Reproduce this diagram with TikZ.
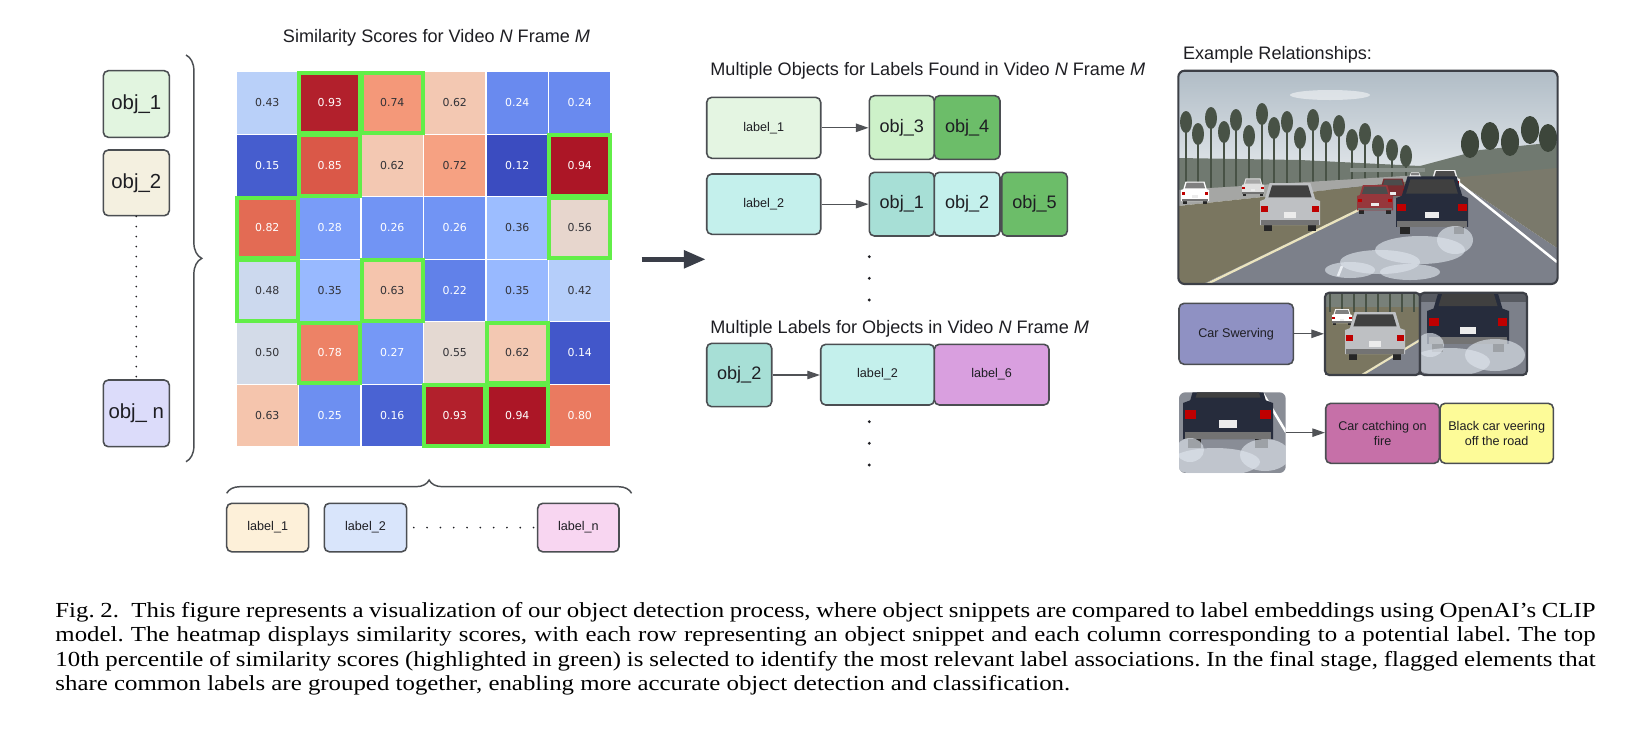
\documentclass[tikz,border=0pt]{standalone}
\usepackage{fontspec}
\setmainfont{Liberation Serif}
\setsansfont{Liberation Sans}
\newfontfamily\dejavu{DejaVu Sans}
\usetikzlibrary{arrows.meta,decorations.pathreplacing,calc}

% heatmap colours (coolwarm)
\definecolor{hm12}{RGB}{59,76,192}
\definecolor{hm14}{RGB}{66,87,202}
\definecolor{hm15}{RGB}{70,93,206}
\definecolor{hm16}{RGB}{74,99,211}
\definecolor{hm22}{RGB}{97,129,233}
\definecolor{hm24}{RGB}{105,138,239}
\definecolor{hm25}{RGB}{109,143,241}
\definecolor{hm26}{RGB}{113,148,244}
\definecolor{hm27}{RGB}{117,152,246}
\definecolor{hm28}{RGB}{121,156,248}
\definecolor{hm35}{RGB}{152,185,255}
\definecolor{hm36}{RGB}{156,189,255}
\definecolor{hm42}{RGB}{181,206,250}
\definecolor{hm43}{RGB}{185,208,249}
\definecolor{hm48}{RGB}{204,217,238}
\definecolor{hm50}{RGB}{211,219,232}
\definecolor{hm55}{RGB}{228,217,210}
\definecolor{hm56}{RGB}{231,214,205}
\definecolor{hm62}{RGB}{243,200,178}
\definecolor{hm63}{RGB}{245,197,173}
\definecolor{hm72}{RGB}{246,161,130}
\definecolor{hm74}{RGB}{244,152,121}
\definecolor{hm78}{RGB}{237,130,102}
\definecolor{hm80}{RGB}{234,122,96}
\definecolor{hm82}{RGB}{227,107,84}
\definecolor{hm85}{RGB}{218,88,72}
\definecolor{hm93}{RGB}{178,32,44}
\definecolor{hm94}{RGB}{172,22,38}
\definecolor{hmtext}{RGB}{50,50,55}
\definecolor{hlgreen}{RGB}{98,238,72}

\definecolor{textdark}{RGB}{30,30,35}
\definecolor{bordergray}{RGB}{75,78,82}
\definecolor{arrowgray}{RGB}{80,82,86}
\definecolor{bigarrowcol}{RGB}{58,62,72}
\definecolor{photoborder}{RGB}{60,63,70}

\definecolor{objAfill}{HTML}{E2F5E0}
\definecolor{objBfill}{HTML}{F4F0E0}
\definecolor{objNfill}{HTML}{DCDCFA}
\definecolor{lab1fill}{HTML}{FDF0D9}
\definecolor{lab2fill}{HTML}{D9E5FB}
\definecolor{labnfill}{HTML}{F8D6F1}
\definecolor{mlab1fill}{HTML}{E4F5E2}
\definecolor{obj3fill}{HTML}{CDF1C9}
\definecolor{obj4fill}{HTML}{6CBD69}
\definecolor{cyanfill}{HTML}{C4F0EC}
\definecolor{tealfill}{HTML}{A7DFD6}
\definecolor{purplefill}{HTML}{D99FDF}
\definecolor{swervefill}{HTML}{8F91C3}
\definecolor{firefill}{HTML}{C670A8}
\definecolor{veerfill}{HTML}{FDFB98}

% photo colours
\definecolor{skytop}{RGB}{176,188,198}
\definecolor{skybot}{RGB}{232,236,239}
\definecolor{treecol}{RGB}{72,82,70}
\definecolor{grass}{RGB}{122,118,96}
\definecolor{roadcol}{RGB}{124,128,138}
\definecolor{farroad}{RGB}{165,166,164}
\definecolor{laneyellow}{RGB}{235,228,190}
\definecolor{suvsilver}{RGB}{190,192,195}
\definecolor{blackcar}{RGB}{38,44,60}
\definecolor{redcar}{RGB}{150,55,60}
\definecolor{smokecol}{RGB}{222,228,236}

\newcommand\rearcar[5]{%
\begin{scope}[shift={(#1,#2)}, scale=#3/100]
 \fill[black!85] (-44,0) rectangle (-30,-14);
 \fill[black!85] (30,0) rectangle (44,-14);
 \fill[#4] (-50,-10) -- (-50,-50) -- (-42,-53) -- (-34,-80) -- (34,-80) -- (42,-53) -- (50,-50) -- (50,-10) -- cycle;
 \fill[#5] (-36,-56) -- (-30,-76) -- (30,-76) -- (36,-56) -- cycle;
 \fill[black!55] (-48,-10) rectangle (48,-18);
 \fill[red!75!black] (-48,-32) rectangle (-36,-42);
 \fill[red!75!black] (36,-32) rectangle (48,-42);
 \fill[white!85!gray] (-10,-22) rectangle (10,-31);
\end{scope}}
\newcommand\smokepuff[4]{\fill[smokecol, fill opacity=0.65] (#1,#2) ellipse [x radius=#3, y radius=#4];}
% box node from pixel corners: style, name, x1, y1, x2, y2, text
\newcommand\boxnode[7]{%
 \pgfmathsetmacro\bxw{(#5-#3)*0.4757}%
 \pgfmathsetmacro\bxh{(#6-#4)*0.4757}%
 \node[#1, minimum width=\bxw pt, minimum height=\bxh pt] (#2) at ({(#3+#5)/2},{(#4+#6)/2}) {#7};}

\tikzset{
 box/.style={draw=bordergray, line width=0.75pt, rounded corners=2.4pt, inner sep=0pt, text=textdark},
 objbig/.style={box, font=\fontsize{9.7pt}{11pt}\selectfont\sffamily},
 objmid/.style={box, font=\fontsize{8.6pt}{10pt}\selectfont\sffamily},
 lbl/.style={box, font=\fontsize{6pt}{7.4pt}\selectfont\sffamily, align=center},
 titletext/.style={font=\fontsize{8.6pt}{10pt}\selectfont\sffamily, text=textdark, inner sep=0pt},
 cellbox/.style={draw=white, line width=0.5pt, minimum width=29.73pt, minimum height=29.73pt, inner sep=0pt, font=\fontsize{5.2pt}{6pt}\selectfont\dejavu},
 hl/.style={draw=hlgreen, line width=1.9pt},
 thinarrow/.style={draw=arrowgray, line width=0.55pt, -{Triangle[length=6pt,width=4pt]}},
 bigarrow/.style={draw=bigarrowcol, line width=2.6pt, -{Triangle[length=10.5pt,width=8pt]}},
 bracestyle/.style={draw=bordergray, line width=0.7pt, decorate},
 dotcol/.style={draw=textdark, line width=0.9pt, line cap=round, dash pattern=on 0pt off 4.76pt},
 dotrow/.style={draw=textdark, line width=0.9pt, line cap=round, dash pattern=on 0pt off 6.33pt},
 photo/.style={draw=photoborder, line width=1pt, rounded corners=3pt, inner sep=0pt},
 photonb/.style={draw=none, inner sep=0pt},
}

\begin{document}
\begin{tikzpicture}[x=0.4757pt,y=-0.4757pt]
\useasboundingbox (0,0) rectangle (1648,735);
\fill[white] (0,0) rectangle (1648,735);

% ---------- heatmap ----------
\node[titletext, anchor=base] (hmtitle) at (436.5,42.7) {Similarity Scores for Video \textit{N} Frame \textit{M}};
\foreach \rowvals [count=\r] in {{43,93,74,62,24,24},{15,85,62,72,12,94},{82,28,26,26,36,56},{48,35,63,22,35,42},{50,78,27,55,62,14},{63,25,16,93,94,80}}{
 \foreach \v [count=\c] in \rowvals {
   \ifnum\v<30 \def\tc{white}\else\ifnum\v>77 \def\tc{white}\else\def\tc{hmtext}\fi\fi
   \node[cellbox, fill=hm\v, text=\tc] (cell-\r-\c) at ({236+(\c-0.5)*62.5},{71.7+(\r-0.5)*62.5}) {0.\v};
 }
}
\foreach \r/\c in {1/2,1/3,2/2,2/6,3/1,3/6,4/1,4/3,5/2,5/5,6/4,6/5}
 \draw[hl] ([shift={(1.5,1.5)}]cell-\r-\c.north west) rectangle ([shift={(-1.5,-1.5)}]cell-\r-\c.south east);

% ---------- left objects ----------
\boxnode{objbig, fill=objAfill}{lobj1}{103.3}{70.7}{169.3}{137.3}{obj\_1}
\boxnode{objbig, fill=objBfill}{lobj2}{103.3}{150}{169.3}{215.7}{obj\_2}
\boxnode{objbig, fill=objNfill}{lobjn}{103.3}{380}{169.3}{446.7}{obj\_ n}
\draw[dotcol] (lobj2.south) -- (lobjn.north);
\coordinate (lbraceA) at (186,55);
\coordinate (lbraceB) at (186,461.7);
\draw[bracestyle, decoration={brace, amplitude=7.5pt}] (lbraceA) -- (lbraceB);

% ---------- bottom labels ----------
\coordinate (bbraceA) at (226.7,493.3);
\coordinate (bbraceB) at (631.6,493.3);
\draw[bracestyle, decoration={brace, amplitude=6.3pt}] (bbraceA) -- (bbraceB);
\boxnode{lbl, fill=lab1fill}{blab1}{226.7}{503.3}{308.7}{551.8}{label\_1}
\boxnode{lbl, fill=lab2fill}{blab2}{324.3}{503.3}{406.7}{551.8}{label\_2}
\boxnode{lbl, fill=labnfill}{blabn}{537.7}{503.3}{619}{551.8}{label\_n}
\draw[dotrow] ([xshift=3pt]blab2.east) -- (blabn.west);

% ---------- big arrow ----------
\coordinate (bigA) at (641.7,259.3);
\coordinate (bigB) at (706,259.3);
\draw[bigarrow] (bigA) -- (bigB);

% ---------- middle ----------
\node[titletext, anchor=base west] (mtitle1) at (710,75) {Multiple Objects for Labels Found in Video \textit{N} Frame \textit{M}};
\boxnode{lbl, fill=mlab1fill}{mlab1}{706.7}{97.3}{820.7}{158.3}{label\_1}
\boxnode{objmid, fill=obj3fill}{mobj3}{869.3}{95.7}{934.3}{159.3}{obj\_3}
\boxnode{objmid, fill=obj4fill}{mobj4}{934.3}{95.7}{1000}{159.3}{obj\_4}
\draw[thinarrow] (mlab1.east) -- (mlab1.east -| mobj3.west);

\boxnode{lbl, fill=cyanfill}{mlab2}{706.7}{174}{820.7}{234.3}{label\_2}
\boxnode{objmid, fill=tealfill}{mobj1}{869.3}{172.3}{934.3}{236}{obj\_1}
\boxnode{objmid, fill=cyanfill}{mobj2}{934.3}{172.3}{1000}{236}{obj\_2}
\boxnode{objmid, fill=obj4fill}{mobj5}{1001.7}{172.3}{1067.3}{236}{obj\_5}
\draw[thinarrow] (mlab2.east) -- (mlab2.east -| mobj1.west);

\foreach \yy in {256.7,278.3,300} \fill[textdark] (869.3,\yy) circle (0.75pt);

\node[titletext, anchor=base west] (mtitle2) at (710,333.3) {Multiple Labels for Objects in Video \textit{N} Frame \textit{M}};
\boxnode{objmid, fill=tealfill}{mobj2b}{706.7}{343.3}{771.7}{406.7}{obj\_2}
\boxnode{lbl, fill=cyanfill}{mlab2b}{820.7}{344.3}{934.3}{405}{label\_2}
\boxnode{lbl, fill=purplefill}{mlab6}{934.3}{344.3}{1049}{405}{label\_6}
\draw[thinarrow] (mobj2b.east) -- (mobj2b.east -| mlab2b.west);
\foreach \yy in {421.7,443.3,465} \fill[textdark] (869.3,\yy) circle (0.75pt);

% ---------- right: example relationships ----------
\node[titletext, anchor=base west] (rtitle) at (1182.7,59.3) {Example Relationships:};

% big photo scene
\begin{scope}
\clip[rounded corners=3pt] (1178.3,70.7) rectangle (1557.6,284);
\fill[top color=skytop, bottom color=skybot] (1178,70) rectangle (1558,190);
\fill[white, fill opacity=0.5] (1330,95) ellipse [x radius=40, y radius=5];
\fill[treecol!75!skybot] (1178,158) -- (1300,160) -- (1420,166) -- (1480,150) -- (1558,142) -- (1558,190) -- (1178,190) -- cycle;
\foreach \tx/\ty in {1186/112,1198/124,1211/108,1224/122,1236/110,1249/126,1262/104,1274/118,1287/112,1300/128,1313/110,1326/122,1339/116,1352/130,1365/124,1378/136,1392/140,1406/146}{
  \draw[treecol, line width=0.5pt] (\tx,188) -- (\tx,\ty);
  \fill[treecol] (\tx,\ty+10) ellipse [x radius=6, y radius=11];
}
\foreach \tx/\ty in {1470/132,1490/124,1510/130,1530/118,1548/126}{
  \fill[treecol!85!black] (\tx,\ty+12) ellipse [x radius=9, y radius=14];
}
\fill[treecol!60!skybot] (1350,168) rectangle (1425,172);
\fill[farroad] (1178,190) -- (1420,175) -- (1422,180) -- (1178,206) -- cycle;
\fill[grass] (1178,206) -- (1422,180) -- (1203,284) -- (1178,284) -- cycle;
\fill[roadcol] (1203,284) -- (1422,178) -- (1452,178) -- (1557,248) -- (1557,284) -- cycle;
\fill[grass!75!roadcol] (1452,178) -- (1557,168) -- (1557,248) -- cycle;
\draw[laneyellow, line width=1.1pt] (1207,284) -- (1422,179);
\draw[white, line width=1.2pt] (1455,180) -- (1557,262);
\draw[white, line width=1.2pt] (1338,276) -- (1342,266);
\rearcar{1195}{204}{28}{white}{gray}
\rearcar{1253}{196}{22}{gray!25}{gray!70}
\rearcar{1415}{182}{12}{white}{gray}
\rearcar{1445}{194}{30}{white!90!gray}{gray!60!black}
\rearcar{1393}{201}{28}{redcar!80!black}{black!70}
\rearcar{1375}{214}{36}{redcar}{black!70}
\rearcar{1290}{231}{60}{suvsilver}{black!75}
\rearcar{1432}{234}{72}{blackcar}{gray!50!black}
\smokepuff{1420}{250}{45}{14}
\smokepuff{1380}{262}{40}{12}
\smokepuff{1455}{240}{18}{14}
\smokepuff{1350}{270}{25}{8}
\smokepuff{1410}{272}{30}{8}
\end{scope}
\boxnode{photo}{bigphoto}{1178.3}{70.7}{1557.6}{284}{}

% small photo 1
\begin{scope}
\clip (1325,292.7) rectangle (1420,375);
\fill[grass] (1325,292.7) rectangle (1420,375);
\fill[treecol!70!skybot] (1325,292.7) rectangle (1420,307);
\foreach \tx in {1330,1342,1354,1366,1378,1390,1402,1414} \draw[treecol, line width=0.5pt] (\tx,293) -- (\tx,312);
\fill[roadcol] (1360,375) -- (1420,338) -- (1420,375) -- cycle;
\draw[laneyellow, line width=1pt] (1362,375) -- (1420,340);
\rearcar{1342}{325}{20}{white}{gray}
\rearcar{1375}{360}{60}{suvsilver}{black!75}
\end{scope}
\boxnode{photo, rounded corners=2pt}{sphoto1}{1325}{292.7}{1420}{375}{}

% small photo 2
\begin{scope}
\clip (1420,292.7) rectangle (1527,375);
\fill[roadcol] (1420,292.7) rectangle (1527,375);
\fill[roadcol!70!black] (1420,292.7) rectangle (1527,302);
\rearcar{1468}{352}{82}{blackcar}{gray!50!black}
\smokepuff{1450}{362}{40}{14}
\smokepuff{1495}{355}{30}{16}
\smokepuff{1430}{345}{14}{12}
\end{scope}
\boxnode{photo, rounded corners=2pt}{sphoto2}{1420}{292.7}{1527}{375}{}

\boxnode{lbl, fill=swervefill}{swerve}{1179}{303.3}{1293.3}{364.3}{Car Swerving}
\draw[thinarrow] (swerve.east) -- (swerve.east -| sphoto1.west);

% bottom photo
\begin{scope}
\clip[rounded corners=3pt] (1179,392.3) rectangle (1285.7,473);
\fill[roadcol!90!white] (1179,392.3) rectangle (1285.7,473);
\draw[white, line width=1.2pt] (1262,392) -- (1286,432);
\rearcar{1228}{448}{90}{blackcar}{gray!50!black}
\smokepuff{1215}{462}{45}{14}
\smokepuff{1265}{455}{25}{16}
\smokepuff{1190}{450}{14}{12}
\end{scope}
\boxnode{photonb}{bphoto}{1179}{392.3}{1285.7}{473}{}

\boxnode{lbl, fill=firefill}{fire}{1325.7}{403.3}{1439.3}{463.3}{Car catching on\\fire}
\boxnode{lbl, fill=veerfill}{veer}{1440}{403.3}{1553.3}{463.3}{Black car veering\\off the road}
\draw[thinarrow] (bphoto.east) -- (bphoto.east -| fire.west);

% ---------- caption ----------
\node[anchor=north west, inner sep=0pt] (caption) at (55,601.5) {\scalebox{1.159}[1]{\parbox[t]{632.1pt}{\fontsize{10.2pt}{11.7pt}\selectfont\frenchspacing Fig.~2.\hskip 0.5em This figure represents a visualization of our object detection process, where object snippets are compared to label embeddings using OpenAI’s CLIP\linebreak model. The heatmap displays similarity scores, with each row representing an object snippet and each column corresponding to a potential label. The top\linebreak 10th percentile of similarity scores (highlighted in green) is selected to identify the most relevant label associations. In the final stage, flagged elements that\linebreak share common labels are grouped together, enabling more accurate object detection and classification.}}};
\end{tikzpicture}
\end{document}
